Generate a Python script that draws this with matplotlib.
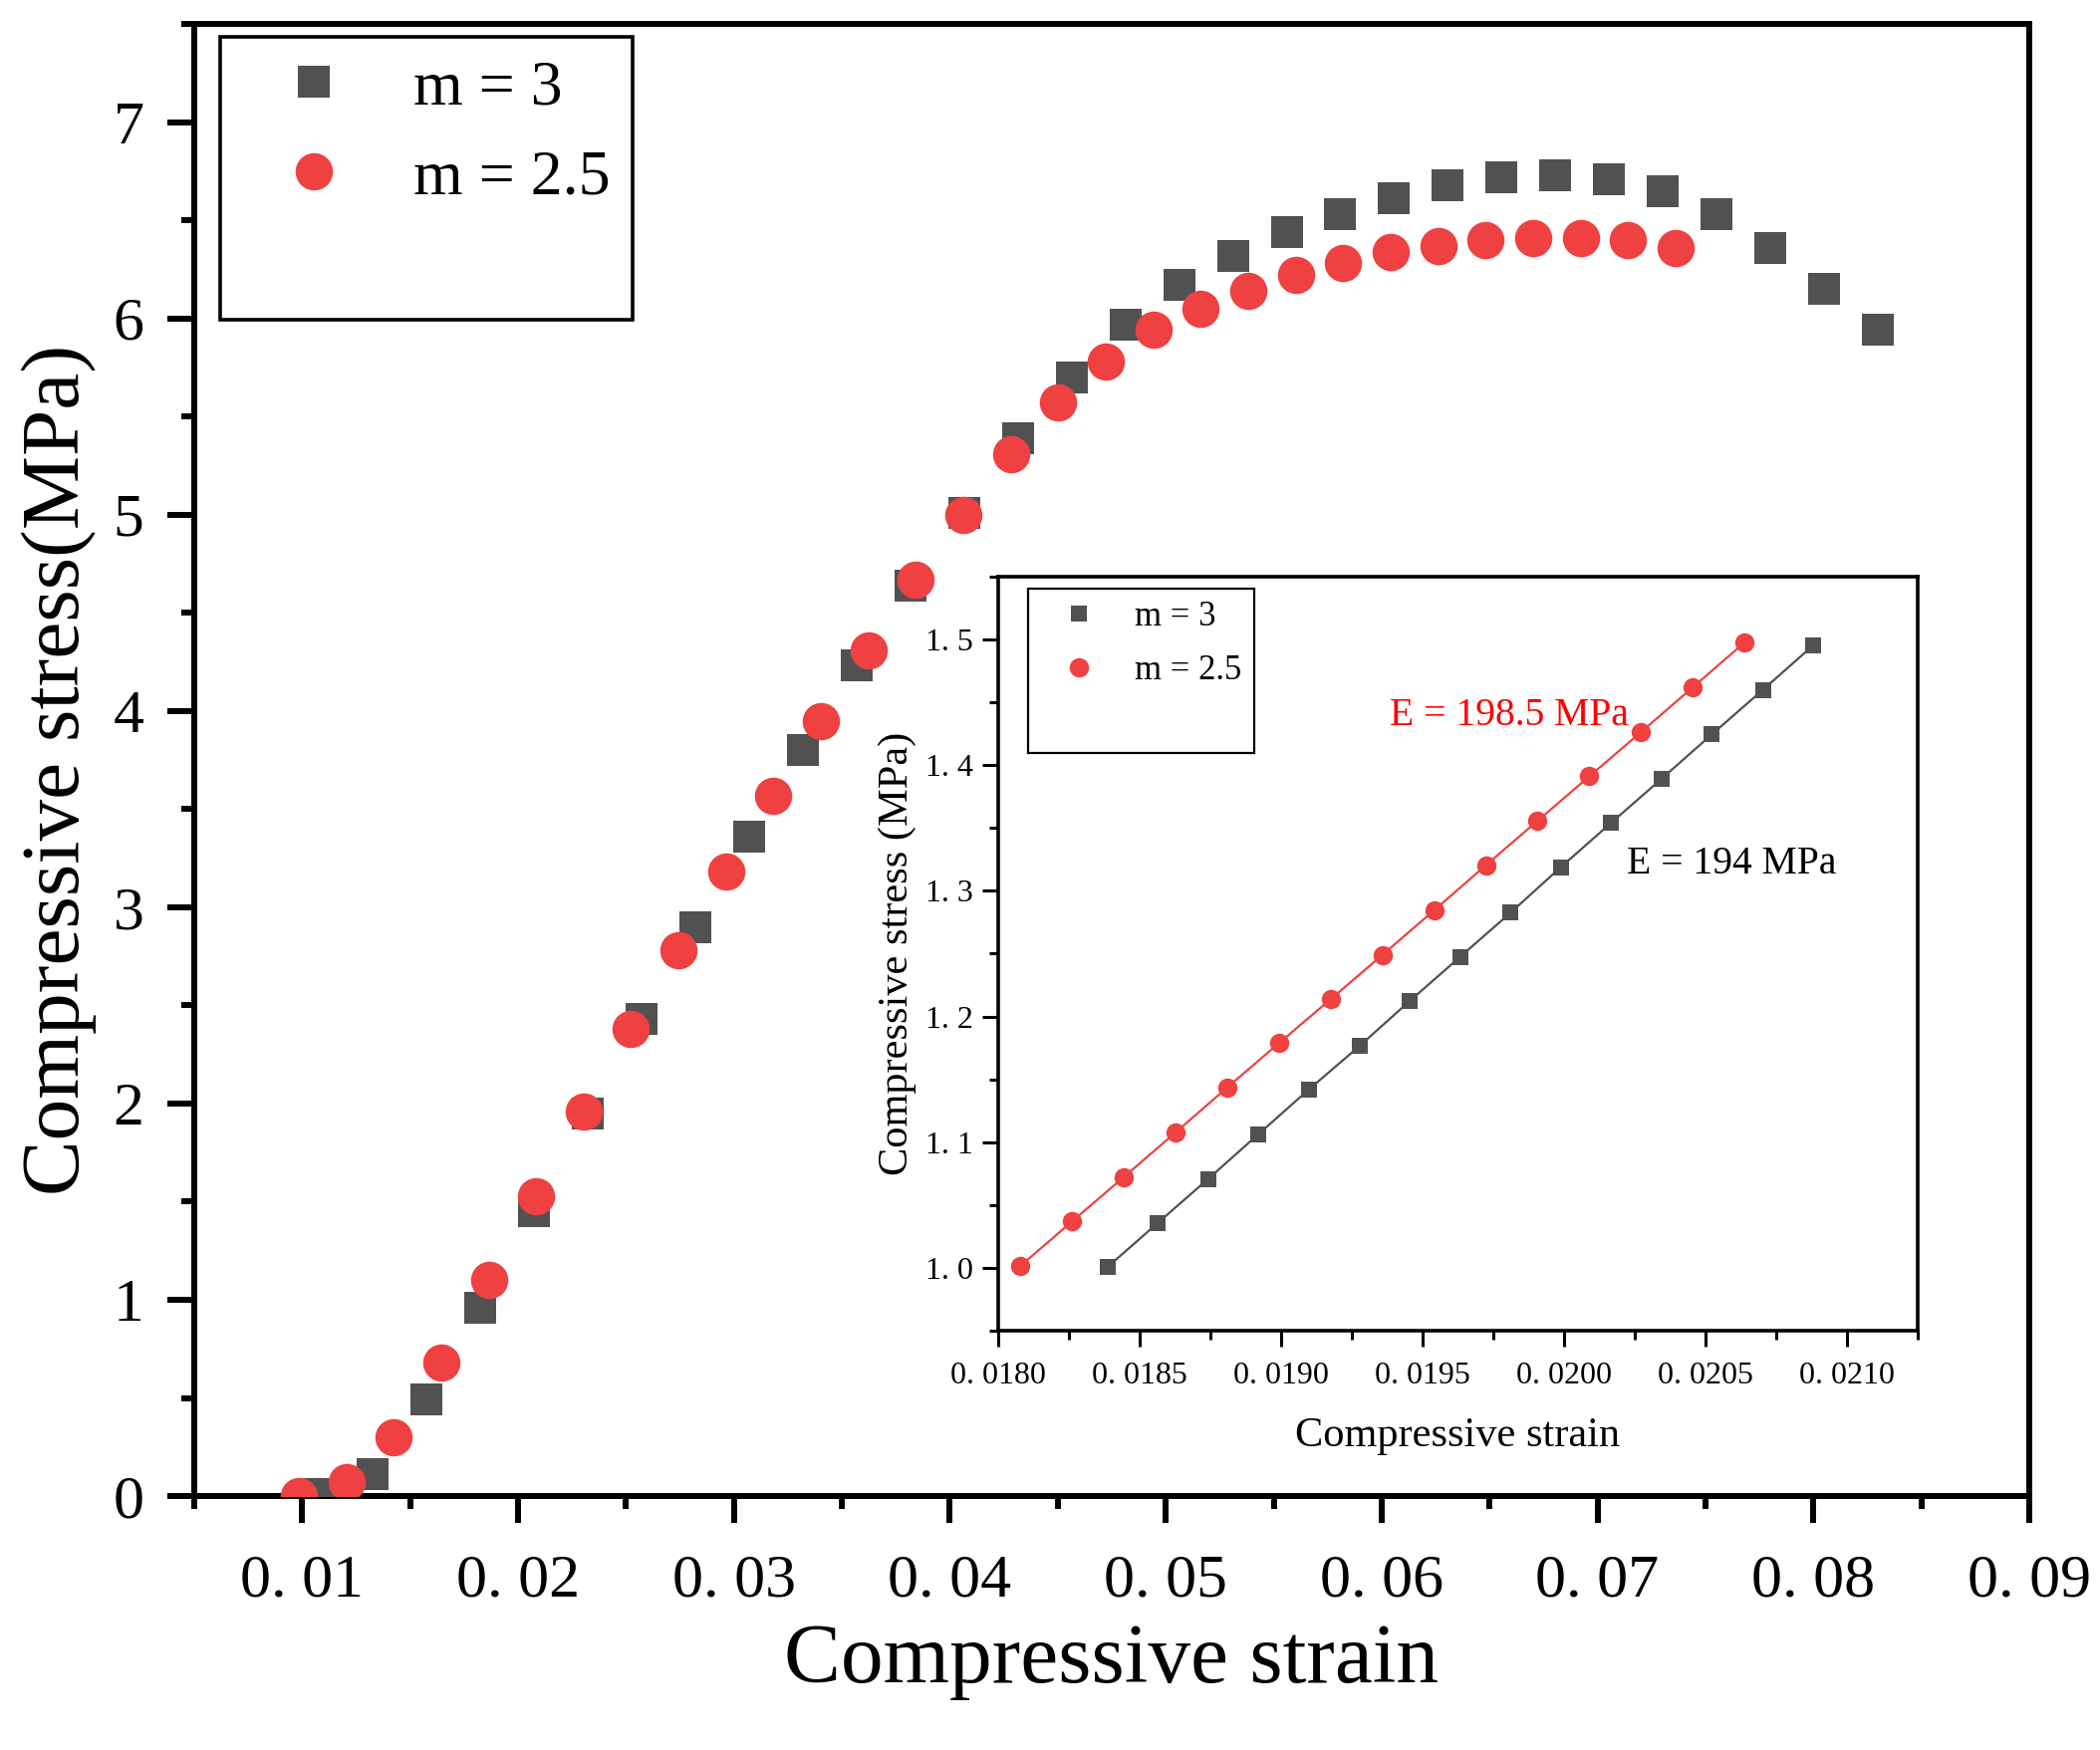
import matplotlib
matplotlib.use("Agg")
import matplotlib.pyplot as plt
from matplotlib.lines import Line2D
from matplotlib.ticker import MultipleLocator

plt.rcParams['font.family'] = ['Liberation Serif', 'DejaVu Serif']

# ---------------- data: main plot ----------------
strain_m3 = [0.01078, 0.01327, 0.01576, 0.01825, 0.02074, 0.02323, 0.02572, 0.02821,
             0.03070, 0.03319, 0.03568, 0.03817, 0.04066, 0.04315, 0.04564, 0.04813,
             0.05062, 0.05311, 0.05560, 0.05809, 0.06058, 0.06307, 0.06556, 0.06805,
             0.07054, 0.07303, 0.07552, 0.07801, 0.08050, 0.08299]
stress_m3 = [0.01, 0.11, 0.49, 0.96, 1.45, 1.95, 2.43, 2.90, 3.36, 3.80, 4.23, 4.64,
             5.01, 5.39, 5.70, 5.97, 6.17, 6.32, 6.44, 6.53, 6.61, 6.68, 6.72, 6.73,
             6.71, 6.65, 6.53, 6.36, 6.15, 5.94]

strain_m25 = [0.00984, 0.01204, 0.01424, 0.01644, 0.01864, 0.02084, 0.02304, 0.02523,
              0.02743, 0.02963, 0.03183, 0.03403, 0.03623, 0.03843, 0.04063, 0.04283,
              0.04503, 0.04723, 0.04943, 0.05162, 0.05382, 0.05602, 0.05822, 0.06042,
              0.06262, 0.06482, 0.06702, 0.06922, 0.07142, 0.07362]
stress_m25 = [0.00, 0.07, 0.30, 0.68, 1.10, 1.53, 1.96, 2.38, 2.78, 3.18, 3.57, 3.95,
              4.31, 4.67, 5.00, 5.31, 5.57, 5.78, 5.94, 6.05, 6.14, 6.22, 6.28, 6.34,
              6.37, 6.40, 6.41, 6.41, 6.40, 6.36]

main_xticks = [0.01, 0.02, 0.03, 0.04, 0.05, 0.06, 0.07, 0.08, 0.09]
main_xticklabels = ["0. 01", "0. 02", "0. 03", "0. 04", "0. 05", "0. 06", "0. 07", "0. 08", "0. 09"]
main_yticks = [0, 1, 2, 3, 4, 5, 6, 7]
main_yticklabels = ["0", "1", "2", "3", "4", "5", "6", "7"]

# ---------------- data: inset ----------------
in_strain_m3 = [0.018389, 0.018565, 0.018743, 0.018921, 0.019100, 0.019279, 0.019456,
                0.019634, 0.019813, 0.019990, 0.020168, 0.020346, 0.020524, 0.020704,
                0.020883]
in_stress_m3 = [1.0008, 1.0356, 1.0706, 1.1063, 1.1420, 1.1766, 1.2123, 1.2474, 1.2827,
                1.3188, 1.3541, 1.3891, 1.4245, 1.4599, 1.4955]
in_strain_m25 = [0.018079, 0.018263, 0.018446, 0.018629, 0.018811, 0.018994, 0.019177,
                 0.019360, 0.019543, 0.019726, 0.019908, 0.020091, 0.020273, 0.020456,
                 0.020639]
in_stress_m25 = [1.0013, 1.0370, 1.0723, 1.1078, 1.1435, 1.1788, 1.2138, 1.2491, 1.2846,
                 1.3205, 1.3557, 1.3911, 1.4262, 1.4618, 1.4975]

in_xticks = [0.0180, 0.0185, 0.0190, 0.0195, 0.0200, 0.0205, 0.0210]
in_xticklabels = ["0. 0180", "0. 0185", "0. 0190", "0. 0195", "0. 0200", "0. 0205", "0. 0210"]
in_yticks = [1.0, 1.1, 1.2, 1.3, 1.4, 1.5]
in_yticklabels = ["1. 0", "1. 1", "1. 2", "1. 3", "1. 4", "1. 5"]

labels = ["m = 3", "m = 2.5"]
E_labels = ["E = 198.5 MPa", "E = 194 MPa"]

GRAY = '#515151'
RED = '#EF4141'

fig = plt.figure(figsize=(21.08, 17.57), dpi=100)

# ---------------- main axes ----------------
ax = fig.add_axes([0.0925, 0.1451, 0.8738, 0.8412])
h1, = ax.plot(strain_m3, stress_m3, linestyle='none', marker='s', ms=23, mew=0,
              color=GRAY, label=labels[0], zorder=3)
h2, = ax.plot(strain_m25, stress_m25, linestyle='none', marker='o', ms=27, mew=0,
              color=RED, label=labels[1], zorder=4)
ax.set_xlim(0.005, 0.09)
ax.set_ylim(0, 7.5)
ax.set_xticks(main_xticks, main_xticklabels)
ax.set_yticks(main_yticks, main_yticklabels)
ax.xaxis.set_minor_locator(MultipleLocator(0.005))
ax.yaxis.set_minor_locator(MultipleLocator(0.5))
ax.tick_params(which='major', direction='out', length=19.4, width=4.3,
               labelsize=44.6, pad=17, top=False, right=False)
ax.tick_params(axis='x', which='major', pad=22.5)
ax.tick_params(which='minor', direction='out', length=9.4, width=4.3,
               top=False, right=False)
for s in ax.spines.values():
    s.set_linewidth(4.3)
ax.set_xlabel("Compressive strain", fontsize=61.5)
ax.set_ylabel("Compressive stress(MPa)", fontsize=60)
ax.xaxis.set_label_coords(0.5, -0.0866)
ax.yaxis.set_label_coords(-0.0532, 0.4932)

blank = Line2D([], [], linestyle='none', marker=None)
leg = ax.legend([h1, h2, blank], [labels[0], labels[1], " "], loc='upper left',
                bbox_to_anchor=(0.0141, 0.9912), borderaxespad=0, fontsize=46,
                frameon=True, fancybox=False, edgecolor='black', framealpha=1,
                borderpad=0.36, handlelength=2.21, handletextpad=0.46,
                labelspacing=0.485, numpoints=1)
leg.get_frame().set_linewidth(2.6)

# ---------------- inset axes ----------------
ins = fig.add_axes([0.4751, 0.2396, 0.4379, 0.4309])
ins.set_facecolor('white')
g1, = ins.plot(in_strain_m3, in_stress_m3, '-', marker='s', ms=12.2, mew=0,
               color=GRAY, lw=1.6, label=labels[0])
g2, = ins.plot(in_strain_m25, in_stress_m25, '-', marker='o', ms=14, mew=0,
               color=RED, lw=1.6, label=labels[1])
ins.set_xlim(0.018, 0.02125)
ins.set_ylim(0.95, 1.55)
ins.set_xticks(in_xticks, in_xticklabels)
ins.set_yticks(in_yticks, in_yticklabels)
ins.xaxis.set_minor_locator(MultipleLocator(0.00025))
ins.yaxis.set_minor_locator(MultipleLocator(0.05))
ins.tick_params(which='major', direction='out', length=11.5, width=2.2,
                labelsize=23, pad=6, top=False, right=False)
ins.tick_params(axis='x', which='major', pad=10.5)
ins.tick_params(which='minor', direction='out', length=6.5, width=2.2,
                top=False, right=False)
for s in ins.spines.values():
    s.set_linewidth(2.6)
ins.set_xlabel("Compressive strain", fontsize=30.5)
ins.set_ylabel("Compressive stress (MPa)", fontsize=30.5)
ins.xaxis.set_label_coords(0.5, -0.1141)
ins.yaxis.set_label_coords(-0.0883, 0.5)

ins.text(0.019384, 1.4318, E_labels[0], color='#FF0000', fontsize=28.5,
         ha='left', va='baseline')
ins.text(0.020224, 1.3138, E_labels[1], color='black', fontsize=28.5,
         ha='left', va='baseline')

blank2 = Line2D([], [], linestyle='none', marker=None)
gl1 = Line2D([], [], linestyle='none', marker='s', ms=12.2, mew=0, color=GRAY)
gl2 = Line2D([], [], linestyle='none', marker='o', ms=14, mew=0, color=RED)
leg2 = ins.legend([gl1, gl2, blank2], [labels[0], labels[1], " "], loc='upper left',
                  bbox_to_anchor=(0.0326, 0.9841), borderaxespad=0, fontsize=25,
                  frameon=True, fancybox=False, edgecolor='black', framealpha=1,
                  borderpad=0.36, handlelength=2.24, handletextpad=0.49,
                  labelspacing=0.59, numpoints=1)
leg2.get_frame().set_linewidth(1.6)

fig.savefig("out.png", dpi=100, facecolor='white')
